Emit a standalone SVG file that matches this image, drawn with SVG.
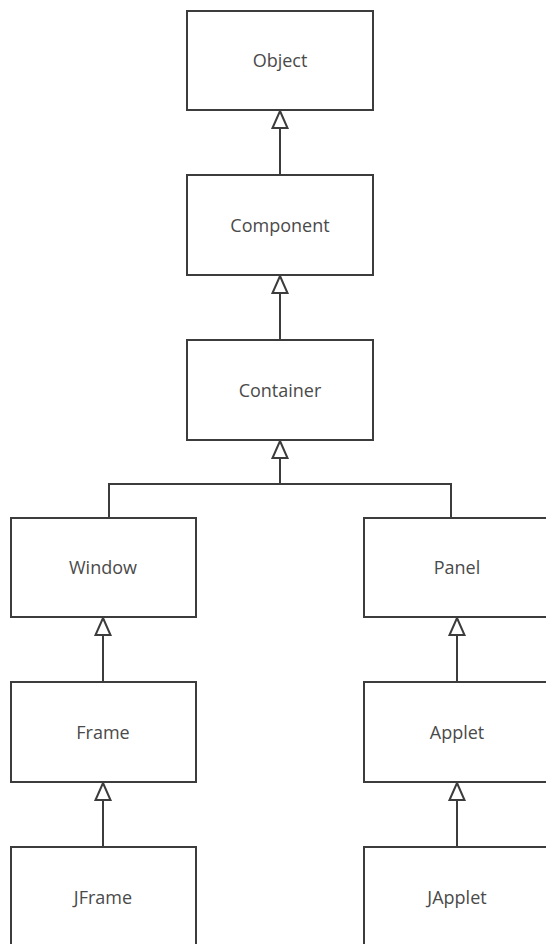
<svg xmlns="http://www.w3.org/2000/svg" width="546" height="944" viewBox="0 0 546 944">
<style>
.box{fill:#ffffff;stroke:#3c3c3c;stroke-width:2}
.lbl{font-family:"Open Sans","Liberation Sans",sans-serif;font-size:18px;fill:#4a4a4a;text-anchor:middle}
.con{fill:none;stroke:#3c3c3c;stroke-width:2}
.tri{fill:#ffffff;stroke:#3c3c3c;stroke-width:2;stroke-linejoin:miter}
</style>
<defs>
<path id="ah" d="M0,0 L7.5,17 L-7.5,17 Z"/>
</defs>
<rect width="546" height="944" fill="#ffffff"/>
<g id="connectors">
<line class="con" x1="280" y1="127" x2="280" y2="175"/>
<line class="con" x1="280" y1="292" x2="280" y2="340"/>
<polyline class="con" points="280,457 280,484 109,484 109,518"/>
<polyline class="con" points="280,484 451,484 451,518"/>
<line class="con" x1="103" y1="634" x2="103" y2="682"/>
<line class="con" x1="457" y1="634" x2="457" y2="682"/>
<line class="con" x1="103" y1="799" x2="103" y2="847"/>
<line class="con" x1="457" y1="799" x2="457" y2="847"/>
<use href="#ah" class="tri" x="280" y="111"/>
<use href="#ah" class="tri" x="280" y="276"/>
<use href="#ah" class="tri" x="280" y="441"/>
<use href="#ah" class="tri" x="103" y="618"/>
<use href="#ah" class="tri" x="457" y="618"/>
<use href="#ah" class="tri" x="103" y="783"/>
<use href="#ah" class="tri" x="457" y="783"/>
</g>
<g id="object"><rect class="box" x="187" y="11" width="186" height="99"/><text class="lbl" x="280" y="67">Object</text></g>
<g id="component"><rect class="box" x="187" y="175" width="186" height="100"/><text class="lbl" x="280" y="232">Component</text></g>
<g id="container"><rect class="box" x="187" y="340" width="186" height="100"/><text class="lbl" x="280" y="397">Container</text></g>
<g id="window"><rect class="box" x="11" y="518" width="185" height="99"/><text class="lbl" x="103" y="574">Window</text></g>
<g id="panel"><rect class="box" x="364" y="518" width="186" height="99"/><text class="lbl" x="457" y="574">Panel</text></g>
<g id="frame"><rect class="box" x="11" y="682" width="185" height="100"/><text class="lbl" x="103" y="739">Frame</text></g>
<g id="applet"><rect class="box" x="364" y="682" width="186" height="100"/><text class="lbl" x="457" y="739">Applet</text></g>
<g id="jframe"><rect class="box" x="11" y="847" width="185" height="110"/><text class="lbl" x="103" y="904">JFrame</text></g>
<g id="japplet"><rect class="box" x="364" y="847" width="186" height="110"/><text class="lbl" x="457" y="904">JApplet</text></g>
</svg>
